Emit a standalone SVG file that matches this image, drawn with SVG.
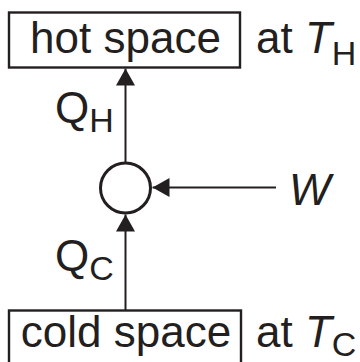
<svg xmlns="http://www.w3.org/2000/svg" width="360" height="362" viewBox="0 0 360 362">
<style>
text{font-family:"Liberation Sans",Arial,sans-serif;fill:#231f20}
.big{font-size:44px}
.sub{font-size:34px}
.it{font-style:italic}
.box{fill:none;stroke:#231f20;stroke-width:2.4}
.ln{stroke:#231f20;stroke-width:2;fill:none}
</style>
<defs>
<marker id="ah" viewBox="0 0 17 19" refX="17" refY="9.5" markerWidth="17" markerHeight="19" markerUnits="userSpaceOnUse" orient="auto">
<path d="M0,0 L17,9.5 L0,19 Z" fill="#231f20"/>
</marker>
</defs>
<g id="hot">
<rect class="box" x="9" y="12.5" width="231" height="55"/>
<text class="big" x="125.5" y="53" text-anchor="middle">hot space</text>
<text class="big" x="256" y="53">at <tspan class="it">T</tspan><tspan class="sub" dy="12">H</tspan></text>
</g>
<g id="cold">
<rect class="box" x="9" y="310.5" width="232" height="60"/>
<text class="big" x="126" y="347" text-anchor="middle">cold space</text>
<text class="big" x="256" y="347">at <tspan class="it">T</tspan><tspan class="sub" dy="9">C</tspan></text>
</g>
<g id="engine">
<circle cx="125.5" cy="188" r="25" fill="none" stroke="#231f20" stroke-width="3"/>
</g>
<g id="labels">
<text class="big" x="55" y="123">Q<tspan class="sub" dy="9">H</tspan></text>
<text class="big" x="55" y="271">Q<tspan class="sub" dy="9">C</tspan></text>
<text class="big it" x="289" y="205">W</text>
</g>
<g id="connectors">
<line class="ln" x1="125.5" y1="162" x2="125.5" y2="68.5" marker-end="url(#ah)"/>
<line class="ln" x1="125.5" y1="310" x2="125.5" y2="214.5" marker-end="url(#ah)"/>
<line class="ln" x1="276" y1="187.5" x2="152.5" y2="187.5" marker-end="url(#ah)"/>
</g>
</svg>
